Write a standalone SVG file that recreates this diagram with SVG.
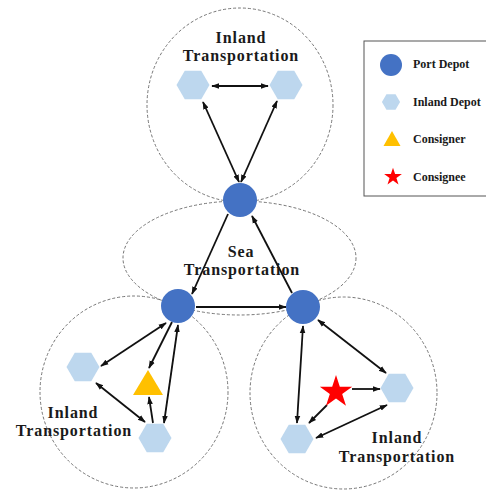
<svg xmlns="http://www.w3.org/2000/svg" xmlns:xlink="http://www.w3.org/1999/xlink" width="486" height="490" viewBox="0 0 486 490">
<style>
.zone{fill:none;stroke:#666;stroke-width:0.9;stroke-dasharray:3 2}
.port{fill:#4472C4}
.hex{fill:#BDD7EE}
.tri{fill:#FFC000}
.star{fill:#FF0000}
.lbl{font-family:"Liberation Serif","Times New Roman",serif;font-weight:bold;font-size:16px;letter-spacing:0.9px;fill:#1a1a1a;text-anchor:middle}
.leg{font-family:"Liberation Serif","Times New Roman",serif;font-weight:bold;font-size:12px;fill:#1a1a1a}
.c{stroke:#111;stroke-width:1.8;fill:none}
.s{marker-end:url(#ah)}
.d{marker-start:url(#ah);marker-end:url(#ah)}
</style>
<defs>
<marker id="ah" viewBox="0 0 10 10" refX="9" refY="5" markerWidth="8" markerHeight="8" markerUnits="userSpaceOnUse" orient="auto-start-reverse">
<path d="M0,1.5 L10,5 L0,8.5 z" fill="#111"/>
</marker>
<path id="hexL" d="M16.5,0 L8.25,14.3 L-8.25,14.3 L-16.5,0 L-8.25,-14.3 L8.25,-14.3 z"/>
<path id="starP" d="M0,-17 L3.82,-5.26 L16.17,-5.25 L6.18,2.01 L9.99,13.75 L0,6.5 L-9.99,13.75 L-6.18,2.01 L-16.17,-5.25 L-3.82,-5.26 z"/>
</defs>
<rect width="486" height="490" fill="#fff"/>

<g id="zones">
<ellipse class="zone" cx="240" cy="105" rx="93" ry="97"/>
<ellipse class="zone" cx="239.5" cy="258" rx="116.5" ry="57"/>
<ellipse class="zone" cx="134" cy="392" rx="94" ry="96"/>
<ellipse class="zone" cx="343.5" cy="393" rx="93.5" ry="96"/>
</g>

<g id="connectors">
<line class="c d" x1="212" y1="86" x2="268" y2="86"/>
<line class="c d" x1="203" y1="102" x2="239" y2="182"/>
<line class="c d" x1="277" y1="101" x2="241" y2="182"/>
<line class="c s" x1="228" y1="214" x2="192" y2="294"/>
<line class="c s" x1="196" y1="307" x2="286" y2="307"/>
<line class="c s" x1="292" y1="293" x2="252" y2="216"/>
<line class="c d" x1="166" y1="323" x2="101" y2="366"/>
<line class="c s" x1="172" y1="322" x2="149" y2="368"/>
<line class="c d" x1="96" y1="383" x2="145" y2="422"/>
<line class="c s" x1="153" y1="423" x2="149" y2="397"/>
<line class="c d" x1="164" y1="423" x2="178" y2="325"/>
<line class="c d" x1="318" y1="320" x2="386" y2="373"/>
<line class="c d" x1="303" y1="326" x2="297" y2="423"/>
<line class="c s" x1="352" y1="389" x2="380" y2="389"/>
<line class="c s" x1="327" y1="405" x2="309" y2="423"/>
<line class="c d" x1="387" y1="405" x2="316" y2="438"/>
</g>

<g id="port-top"><circle class="port" cx="240" cy="200" r="17"/></g>
<g id="port-left"><circle class="port" cx="178" cy="306" r="17"/></g>
<g id="port-right"><circle class="port" cx="303" cy="307" r="17"/></g>

<g id="hex-top-left"><use xlink:href="#hexL" class="hex" transform="translate(193,85)"/></g>
<g id="hex-top-right"><use xlink:href="#hexL" class="hex" transform="translate(286,85)"/></g>
<g id="hex-left-a"><use xlink:href="#hexL" class="hex" transform="translate(83,367)"/></g>
<g id="hex-left-b"><use xlink:href="#hexL" class="hex" transform="translate(155,438)"/></g>
<g id="hex-right-a"><use xlink:href="#hexL" class="hex" transform="translate(397,388)"/></g>
<g id="hex-right-b"><use xlink:href="#hexL" class="hex" transform="translate(297,439)"/></g>

<g id="consigner"><polygon class="tri" points="148,370 163,395 133,395"/></g>
<g id="consignee"><use xlink:href="#starP" class="star" transform="translate(336,392)"/></g>

<g id="label-top"><text class="lbl" x="241" y="43">Inland</text><text class="lbl" x="241" y="61">Transportation</text></g>
<g id="label-sea"><text class="lbl" x="241" y="257">Sea</text><text class="lbl" x="242" y="275">Transportation</text></g>
<g id="label-left"><text class="lbl" x="73" y="418">Inland</text><text class="lbl" x="74" y="436">Transportation</text></g>
<g id="label-right"><text class="lbl" x="397" y="443">Inland</text><text class="lbl" x="397" y="462">Transportation</text></g>

<g id="legend">
<rect x="364" y="41" width="130" height="155" fill="none" stroke="#555" stroke-width="1"/>
<circle class="port" cx="391" cy="65" r="11"/>
<text class="leg" x="413" y="68">Port Depot</text>
<use xlink:href="#hexL" class="hex" transform="translate(391,102) scale(0.55)"/>
<text class="leg" x="413" y="106">Inland Depot</text>
<polygon class="tri" points="392,131 400.5,146 383.5,146"/>
<text class="leg" x="413" y="143">Consigner</text>
<use xlink:href="#starP" class="star" transform="translate(393,177) scale(0.55)"/>
<text class="leg" x="413" y="181">Consignee</text>
</g>
</svg>
